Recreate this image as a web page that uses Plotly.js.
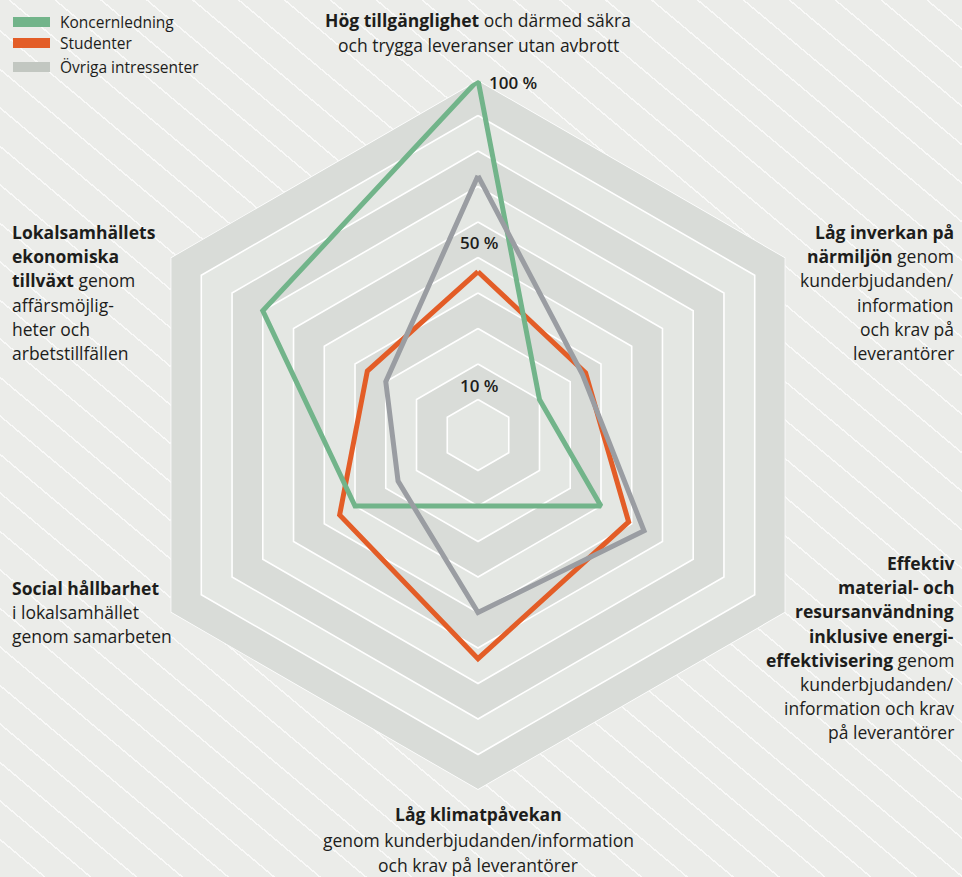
<!DOCTYPE html>
<html><head><meta charset="utf-8">
<script src="https://cdn.plot.ly/plotly-3.0.1.min.js"></script>
<style>
html,body{margin:0;padding:0;}
body{width:962px;height:877px;overflow:hidden;background-color:#ebece9;
background-image:repeating-linear-gradient(40deg, rgba(255,255,255,0) 0px, rgba(255,255,255,0) 28px, rgba(255,255,255,0.7) 28px, rgba(255,255,255,0.7) 29.5px);}
#chart{width:962px;height:877px;}
</style></head><body><div id="chart"></div>
<script>
// ---- data ----
const categories = ["Hög tillgänglighet", "Låg inverkan på närmiljön", "Effektiv material- och resursanvändning", "Låg klimatpåvekan", "Social hållbarhet", "Lokalsamhällets ekonomiska tillväxt"];
const seriesNames = ["Koncernledning", "Studenter", "Övriga intressenter"];
const koncernledning = [100, 20, 40, 20, 40, 70];
const studenter = [46, 35, 49, 63, 45, 36];
const ovriga = [73, 34, 54, 50, 26, 30];
const ringLevels = [100, 90, 80, 70, 60, 50, 40, 30, 20, 10];
const tickValues = [100, 50, 10];
const tickTexts = ["100 %", "50 %", "10 %"];
const labelLines = [
  ["<b>Hög tillgänglighet</b> och därmed säkra", "och trygga leveranser utan avbrott"],
  ["<b>Låg inverkan på</b>", "<b>närmiljön</b> genom", "kunderbjudanden/", "information", "och krav på", "leverantörer"],
  ["<b>Effektiv</b>", "<b>material- och</b>", "<b>resursanvändning</b>", "<b>inklusive energi-</b>", "<b>effektivisering</b> genom", "kunderbjudanden/", "information och krav", "på leverantörer"],
  ["<b>Låg klimatpåvekan</b>", "genom kunderbjudanden/information", "och krav på leverantörer"],
  ["<b>Social hållbarhet</b>", "i lokalsamhället", "genom samarbeten"],
  ["<b>Lokalsamhällets</b>", "<b>ekonomiska</b>", "<b>tillväxt</b> genom", "affärsmöjlig-", "heter och", "arbetstillfällen"]
];

// ---- styling ----
const W = 962, H = 877;
const CX = 478, CY = 435, R = 355;
const lineColors = ["#72b48a", "#e35d27", "#9a9da2"];
const legendColors = ["#72b48a", "#e35d27", "#c2c7c1"];
const bandDark = "#d9dcd8", bandLight = "#e4e7e3";
const FONT = "'Open Sans', Roboto, sans-serif";
const TXT = "#1d1d1b";
const px = x => x / W, py = y => 1 - y / H;

const closeLoop = a => a.concat([a[0]]);
const thetaClosed = closeLoop(categories);

const traces = [];
ringLevels.forEach(lv => {
  const k = Math.round(lv / 10);
  traces.push({
    type: "scatterpolar", mode: "lines", fill: "toself",
    r: closeLoop(categories.map(() => lv)), theta: thetaClosed,
    fillcolor: (k % 2 === 0) ? bandDark : bandLight,
    line: {color: "#ffffff", width: 1.6},
    hoverinfo: "skip", showlegend: false
  });
});
const seriesData = [koncernledning, studenter, ovriga];
[1, 0, 2].forEach(i => {
  traces.push({
    type: "scatterpolar", mode: "lines", name: seriesNames[i],
    r: closeLoop(seriesData[i]), theta: thetaClosed,
    line: {color: lineColors[i], width: 5},
    showlegend: false
  });
});

const annotations = [];
const shapes = [];
// legend
seriesNames.forEach((n, i) => {
  const yc = [22, 43, 67][i];
  shapes.push({type: "rect", xref: "paper", yref: "paper", x0: px(13), x1: px(50), y0: py(yc - 5), y1: py(yc + 5), fillcolor: legendColors[i], line: {width: 0}});
  annotations.push({xref: "paper", yref: "paper", x: px(58), y: py(yc), xanchor: "left", yanchor: "middle", showarrow: false, text: n, font: {family: FONT, size: 15.5, color: TXT}});
});
// category labels
const labelPos = [
  {x: 478, a: "center", y0: 20, dy: 25},
  {x: 956, a: "right", y0: 232, dy: 24.2},
  {x: 956, a: "right", y0: 563, dy: 24.2},
  {x: 478, a: "center", y0: 814, dy: 25.5},
  {x: 10, a: "left", y0: 588, dy: 24},
  {x: 10, a: "left", y0: 232, dy: 24.2}
];
labelLines.forEach((lines, i) => {
  const p = labelPos[i];
  lines.forEach((t, j) => {
    annotations.push({xref: "paper", yref: "paper", x: px(p.x), y: py(p.y0 + j * p.dy), xanchor: p.a, yanchor: "middle", showarrow: false, text: t, font: {family: FONT, size: 17.5, color: TXT}});
  });
});
// radial value labels
tickValues.forEach((v, i) => {
  const yv = CY - R * v / 100;
  const top = v === 100;
  annotations.push({xref: "paper", yref: "paper", x: px(CX), y: py(yv), xanchor: top ? "left" : "center", yanchor: top ? "middle" : "bottom",
    xshift: top ? 9 : 1, yshift: top ? -3 : 1, showarrow: false, text: tickTexts[i], font: {family: FONT, size: 17, color: TXT, weight: 600}});
});

const layout = {
  width: W, height: H, margin: {l: 0, r: 0, t: 0, b: 0},
  paper_bgcolor: "rgba(0,0,0,0)", plot_bgcolor: "rgba(0,0,0,0)",
  showlegend: false,
  polar: {
    domain: {x: [px(CX - R), px(CX + R)], y: [py(CY + R), py(CY - R)]},
    gridshape: "linear", bgcolor: "rgba(0,0,0,0)",
    radialaxis: {range: [0, 100], showgrid: false, showline: false, showticklabels: false, ticks: ""},
    angularaxis: {rotation: 90, direction: "clockwise", showgrid: false, showline: false, showticklabels: false, ticks: ""}
  },
  annotations: annotations, shapes: shapes
};
Plotly.newPlot("chart", traces, layout, {displayModeBar: false, staticPlot: true});
</script></body></html>
